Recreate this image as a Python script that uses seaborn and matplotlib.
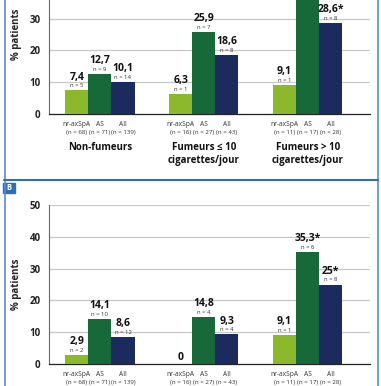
import pandas as pd
import matplotlib.pyplot as plt
import seaborn as sns
from matplotlib.lines import Line2D
from matplotlib.patches import Rectangle

# -------------------------
# Data
# -------------------------
groups = ["Non-fumeurs", "Fumeurs ≤ 10\ncigarettes/jour", "Fumeurs > 10\ncigarettes/jour"]
types = ["nr-axSpA", "AS", "All"]
type_n = [["(n = 68)", "(n = 71)", "(n = 139)"],
          ["(n = 16)", "(n = 27)", "(n = 43)"],
          ["(n = 11)", "(n = 17)", "(n = 28)"]]

# values per group, in type order
top_vals = [7.4, 12.7, 10.1, 6.3, 25.9, 18.6, 9.1, 41.2, 28.6]
top_labels = ["7,4", "12,7", "10,1", "6,3", "25,9", "18,6", "9,1", "41,2", "28,6*"]
top_n = [5, 9, 14, 1, 7, 8, 1, 7, 8]

bot_vals = [2.9, 14.1, 8.6, 0, 14.8, 9.3, 9.1, 35.3, 25]
bot_labels = ["2,9", "14,1", "8,6", "0", "14,8", "9,3", "9,1", "35,3*", "25*"]
bot_n = [2, 10, 12, 0, 4, 4, 1, 6, 8]

top_ticks = [0, 10, 20, 30]
bot_ticks = [0, 10, 20, 30, 40, 50]

palette = ["#8cb92c", "#17693a", "#1c2b5e"]

sns.set_style("white")
plt.rcParams['font.family'] = ['Open Sans', 'DejaVu Sans']

W, H = 381, 386
fig = plt.figure(figsize=(W / 100, H / 100), dpi=100)


def under_label(ax, x, i, j):
    ax.annotate(types[i], (x, 0), xytext=(0, -7.4), textcoords="offset points",
                ha="center", va="center", fontsize=4.8, color="#333333",
                annotation_clip=False)
    ax.annotate(type_n[j][i], (x, 0), xytext=(0, -13.2), textcoords="offset points",
                ha="center", va="center", fontsize=4.4, color="#333333",
                annotation_clip=False)


def draw_panel(ax, vals, labels, ns, ticks):
    df = pd.DataFrame({
        "group": [g for g in groups for t in types],
        "type": [t for g in groups for t in types],
        "value": vals,
    })
    sns.barplot(data=df, x="group", y="value", hue="type", order=groups,
                hue_order=types, palette=palette, width=0.667, saturation=1,
                linewidth=0, ax=ax, legend=False, zorder=3)
    ax.set_ylim(0, 50)
    ax.set_xlim(-0.49, 2.6)
    ax.set_yticks(ticks)
    ax.set_yticklabels([str(v) for v in ticks], fontsize=7,
                       fontweight="bold", color="#222222")
    ax.yaxis.grid(True, color="#c8c8c8", lw=0.9, zorder=0)
    ax.set_axisbelow(True)
    ax.set_xticks([0.5, 1.5, 2.6])
    ax.set_xticklabels([])
    ax.tick_params(axis="x", direction="out", length=3.5, width=0.8, color="#333333")
    ax.tick_params(axis="y", direction="out", length=3, width=0.8, color="#555555", pad=3)
    for s in ["top", "right"]:
        ax.spines[s].set_visible(False)
    ax.spines["left"].set_color("#666666")
    ax.spines["left"].set_linewidth(0.8)
    ax.spines["bottom"].set_color("#222222")
    ax.spines["bottom"].set_linewidth(0.9)
    ax.set_xlabel("")
    ax.set_ylabel("% patients", fontsize=7, fontweight="bold", labelpad=5)

    # labels above and under bars
    for i, cont in enumerate(ax.containers):
        for j, bar in enumerate(cont.patches):
            k = j * 3 + i
            x = bar.get_x() + bar.get_width() / 2
            y = bar.get_height()
            under_label(ax, x, i, j)
            if ns[k] == 0:
                ax.annotate(labels[k], (x, y), xytext=(0, 5), textcoords="offset points",
                            ha="center", va="center", fontsize=7.5, fontweight="bold",
                            color="#111111")
                continue
            ax.annotate(f"n = {ns[k]}", (x, y), xytext=(0, 3.3), textcoords="offset points",
                        ha="center", va="center", fontsize=4.3, color="#333333")
            ax.annotate(labels[k], (x, y), xytext=(0, 9.6), textcoords="offset points",
                        ha="center", va="center", fontsize=7.5, fontweight="bold",
                        color="#111111")

    for j, g in enumerate(groups):
        ax.annotate(g, (j, 0), xytext=(0, -19.8), textcoords="offset points",
                    ha="center", va="top", fontsize=7, fontweight="bold",
                    color="#111111", linespacing=1.25, annotation_clip=False)


left = 49 / W
width = (370 - 49) / W
ax_h = 159 / H

ax_top = fig.add_axes([left, 1 - 114 / H, width, ax_h])
draw_panel(ax_top, top_vals, top_labels, top_n, top_ticks)

ax_bot = fig.add_axes([left, 1 - 364 / H, width, ax_h])
draw_panel(ax_bot, bot_vals, bot_labels, bot_n, bot_ticks)

# -------------------------
# Frame and panel label
# -------------------------
frame = "#5a8fca"
fig.add_artist(Line2D([4.5 / W, 4.5 / W], [0, 1], color=frame, lw=1.2, transform=fig.transFigure))
fig.add_artist(Line2D([377.5 / W, 377.5 / W], [0, 1], color=frame, lw=1.2, transform=fig.transFigure))
fig.add_artist(Line2D([4 / W, 378 / W], [1 - 180 / H, 1 - 180 / H], color="#2f6fb5", lw=1.5,
                      transform=fig.transFigure))
fig.add_artist(Rectangle((3 / W, 1 - 193 / H), 12 / W, 10 / H, color="#2f6fb5",
                         transform=fig.transFigure))
fig.text(9 / W, 1 - 188 / H, "B", color="white", fontsize=5.5, fontweight="bold",
         ha="center", va="center")

fig.savefig("out.png", dpi=100)
